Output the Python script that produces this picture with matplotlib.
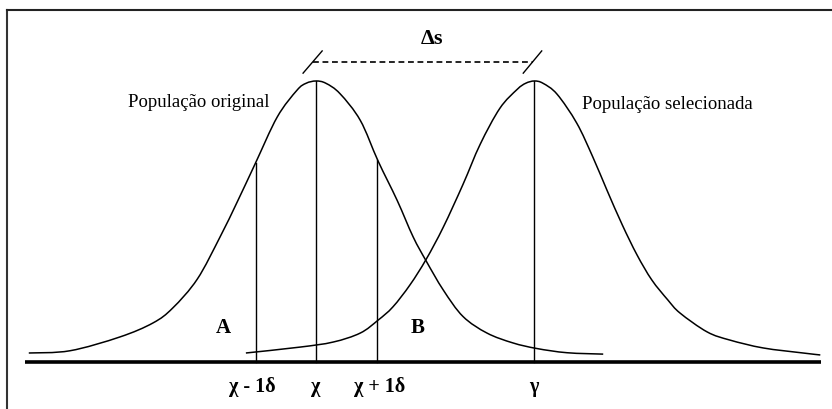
import numpy as np
import matplotlib
matplotlib.use("Agg")
import matplotlib.pyplot as plt
from matplotlib.lines import Line2D
from matplotlib.path import Path
from matplotlib.patches import PathPatch

# -----------------------------
# Data (x in units of delta, chi = 0; height relative to peak)
# -----------------------------
orig_x = [-4.67, -4.00, -3.19, -2.65, -2.33, -1.93, -1.56, -1.28, -0.99, -0.63,
          -0.31, -0.16, 0.00, 0.16, 0.39, 0.72, 1.01, 1.32, 1.58, 1.79, 2.07,
          2.39, 2.78, 3.20, 3.59, 4.08, 4.67]
orig_h = [0.032, 0.040, 0.089, 0.139, 0.192, 0.295, 0.445, 0.570, 0.705, 0.872,
          0.967, 0.992, 1.000, 0.992, 0.955, 0.860, 0.715, 0.575, 0.445, 0.360, 0.256,
          0.162, 0.103, 0.068, 0.048, 0.033, 0.028]

sel_x = [-1.14, -0.26, 0.28, 0.72, 1.01, 1.25, 1.53, 1.79, 2.07, 2.39, 2.67,
         2.99, 3.27, 3.41, 3.55, 3.69, 3.92, 4.24, 4.50, 4.73, 4.98, 5.22, 5.46,
         5.72, 5.92, 6.36, 6.73, 7.27, 7.92, 8.20]
sel_h = [0.032, 0.053, 0.071, 0.103, 0.149, 0.196, 0.275, 0.365, 0.480, 0.632, 0.775,
         0.903, 0.970, 0.992, 1.000, 0.992, 0.953, 0.850, 0.730, 0.612, 0.488, 0.381, 0.292,
         0.221, 0.174, 0.107, 0.078, 0.050, 0.032, 0.025]

mark_pos = [-0.98, 0.0, 1.0]            # chi - 1d, chi, chi + 1d
mark_labels = ["χ - 1δ", "χ", "χ + 1δ"]
gamma_pos = 3.55
gamma_label = "γ"

SERIF = "Liberation Serif"


def smooth_path(xs, ys):
    # Catmull-Rom through the read points, drawn as cubic Bezier segments
    pts = np.column_stack([xs, ys])
    verts = [pts[0]]
    codes = [Path.MOVETO]
    for i in range(len(pts) - 1):
        p0 = pts[i - 1] if i > 0 else pts[i]
        p1, p2 = pts[i], pts[i + 1]
        p3 = pts[i + 2] if i + 2 < len(pts) else pts[i + 1]
        c1 = p1 + (p2 - p0) / 6.0
        c2 = p2 - (p3 - p1) / 6.0
        verts += [c1, c2, p2]
        codes += [Path.CURVE4] * 3
    return Path(verts, codes)


# -----------------------------
# Figure
# -----------------------------
fig = plt.figure(figsize=(8.32, 4.09), dpi=100)
ax = fig.add_axes([0, 0, 1, 1])
ax.set_xlim(-5.138, 8.390)
ax.set_ylim(-0.1673, 1.2883)
ax.axis("off")

# frame (top and left)
fig.add_artist(Line2D([7 / 832, 7 / 832], [0, 1 - 10 / 409], transform=fig.transFigure,
                      color="#333333", lw=1.5))
fig.add_artist(Line2D([7 / 832, 1], [1 - 10 / 409, 1 - 10 / 409], transform=fig.transFigure,
                      color="#222222", lw=1.5))

# baseline
ax.plot([-4.73, 8.21], [0, 0], color="black", lw=2.6, solid_capstyle="butt")

# curves
for cx, ch in [(orig_x, orig_h), (sel_x, sel_h)]:
    ax.add_patch(PathPatch(smooth_path(cx, ch), facecolor="none", edgecolor="black", lw=1.1))

# vertical lines
for p in mark_pos:
    top = np.interp(p, orig_x, orig_h)
    ax.plot([p, p], [0, top], color="black", lw=1.0)
ax.plot([gamma_pos, gamma_pos], [0, np.interp(gamma_pos, sel_x, sel_h)], color="black", lw=1.0)

# delta s bracket
ax.plot([-0.05, 3.53], [1.068, 1.068], color="black", lw=1.2, linestyle=(0, (3.5, 2.2)))
ax.plot([-0.21, 0.10], [1.028, 1.107], color="black", lw=1.0)
ax.plot([3.37, 3.67], [1.028, 1.107], color="black", lw=1.0)
ax.text(1.89, 1.149, "Δs", ha="center", va="center", fontsize=16,
        fontweight="bold", family=SERIF)

# population labels
ax.text(-1.90, 0.925, "População original", ha="center", va="center",
        fontsize=13.5, family=SERIF)
ax.text(5.71, 0.918, "População selecionada", ha="center", va="center",
        fontsize=13.5, family=SERIF)

# area labels
ax.text(-1.50, 0.121, "A", ha="center", va="center", fontsize=15,
        fontweight="bold", family=SERIF)
ax.text(1.66, 0.121, "B", ha="center", va="center", fontsize=15,
        fontweight="bold", family=SERIF)

# labels under the baseline
label_x = [-1.04, 0.0, 1.04]
for lx, lab in zip(label_x, mark_labels):
    ax.text(lx, -0.089, lab, ha="center", va="center", fontsize=14.5,
            fontweight="bold", family=SERIF)
ax.text(gamma_pos - 0.01, -0.089, gamma_label, ha="center", va="center", fontsize=14.5,
        fontweight="bold", family=SERIF)

fig.savefig("out.png", dpi=100, facecolor="white")
